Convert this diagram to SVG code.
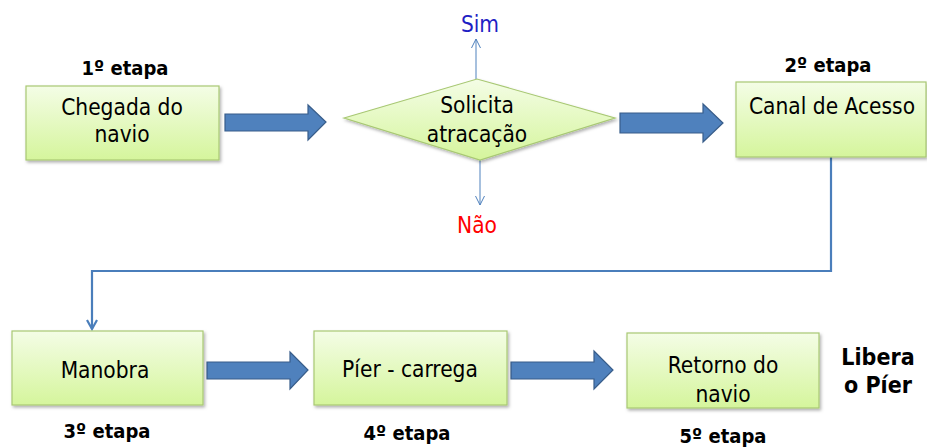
<svg xmlns="http://www.w3.org/2000/svg" width="927" height="448" viewBox="0 0 927 448">
<style>
.box{fill:url(#g);stroke:#a8c873;stroke-width:1.2;filter:url(#sh)}
.t{font-family:"DejaVu Sans Condensed","DejaVu Sans",sans-serif;font-stretch:condensed;font-size:22.5px;fill:#000;text-anchor:middle}
.b{font-family:"DejaVu Sans Condensed","DejaVu Sans",sans-serif;font-stretch:condensed;font-size:20px;font-weight:bold;fill:#000;text-anchor:middle}
.bl{fill:#4f81bd;stroke:#385d8a;stroke-width:1.2}
.thin{fill:none;stroke:#4f81bd;stroke-width:1}
.conn{fill:none;stroke:#4a7ebb;stroke-width:2.2}
</style>
<defs>
<linearGradient id="g" x1="0" y1="0" x2="0" y2="1">
<stop offset="0" stop-color="#f4fde6"/>
<stop offset="1" stop-color="#d5f59c"/>
</linearGradient>
<filter id="sh" x="-10%" y="-10%" width="130%" height="140%">
<feDropShadow dx="1.5" dy="2" stdDeviation="1.5" flood-color="#000" flood-opacity="0.3"/>
</filter>
</defs>
<rect width="927" height="448" fill="#fff"/>

<g id="connectors">
<path class="bl" d="M225,114 H308 V105 L326,122 L308,140 V131 H225 Z"/>
<path class="bl" d="M620,113 H703 V104 L723,123 L703,142 V133 H620 Z"/>
<path class="bl" d="M207,362 H290 V352 L308,370 L290,389 V379 H207 Z"/>
<path class="bl" d="M511,362 H594 V351 L613,370 L594,389 V379 H511 Z"/>
<path class="thin" d="M476,79 V39 M471.5,48 L476,39 L480.5,48"/>
<path class="thin" d="M480,160 V205 M475.5,196 L480,205 L484.5,196"/>
<path class="conn" d="M831,157 V271 H92 V329"/>
<path class="conn" d="M87,320 L92,329 L97,320"/>
</g>

<g id="n1">
<rect class="box" x="26" y="86" width="193" height="74"/>
<text class="t" x="122" y="115">Chegada do</text>
<text class="t" x="122" y="142">navio</text>
<text class="b" x="125" y="75">1º etapa</text>
</g>

<g id="n2">
<polygon class="box" points="344,118 477,79 615,118 480,160"/>
<text class="t" x="477" y="113">Solicita</text>
<text class="t" x="477" y="142">atracação</text>
<text class="t" x="480" y="32" style="fill:#1f1fc4">Sim</text>
<text class="t" x="477" y="233" style="fill:#ff0000">Não</text>
</g>

<g id="n3">
<rect class="box" x="736" y="82" width="190" height="75"/>
<text class="t" x="832" y="114">Canal de Acesso</text>
<text class="b" x="828" y="72">2º etapa</text>
</g>

<g id="n4">
<rect class="box" x="12" y="331" width="191" height="74"/>
<text class="t" x="105" y="378">Manobra</text>
<text class="b" x="107" y="438">3º etapa</text>
</g>

<g id="n5">
<rect class="box" x="314" y="331" width="193" height="74"/>
<text class="t" x="410" y="377">Píer - carrega</text>
<text class="b" x="407" y="440">4º etapa</text>
</g>

<g id="n6">
<rect class="box" x="627" y="333" width="192" height="75"/>
<text class="t" x="723" y="373">Retorno do</text>
<text class="t" x="723" y="402">navio</text>
<text class="b" x="723" y="443">5º etapa</text>
<text class="b" x="878" y="365" style="font-size:23px">Libera</text>
<text class="b" x="878" y="393" style="font-size:23px">o Píer</text>
</g>
</svg>
